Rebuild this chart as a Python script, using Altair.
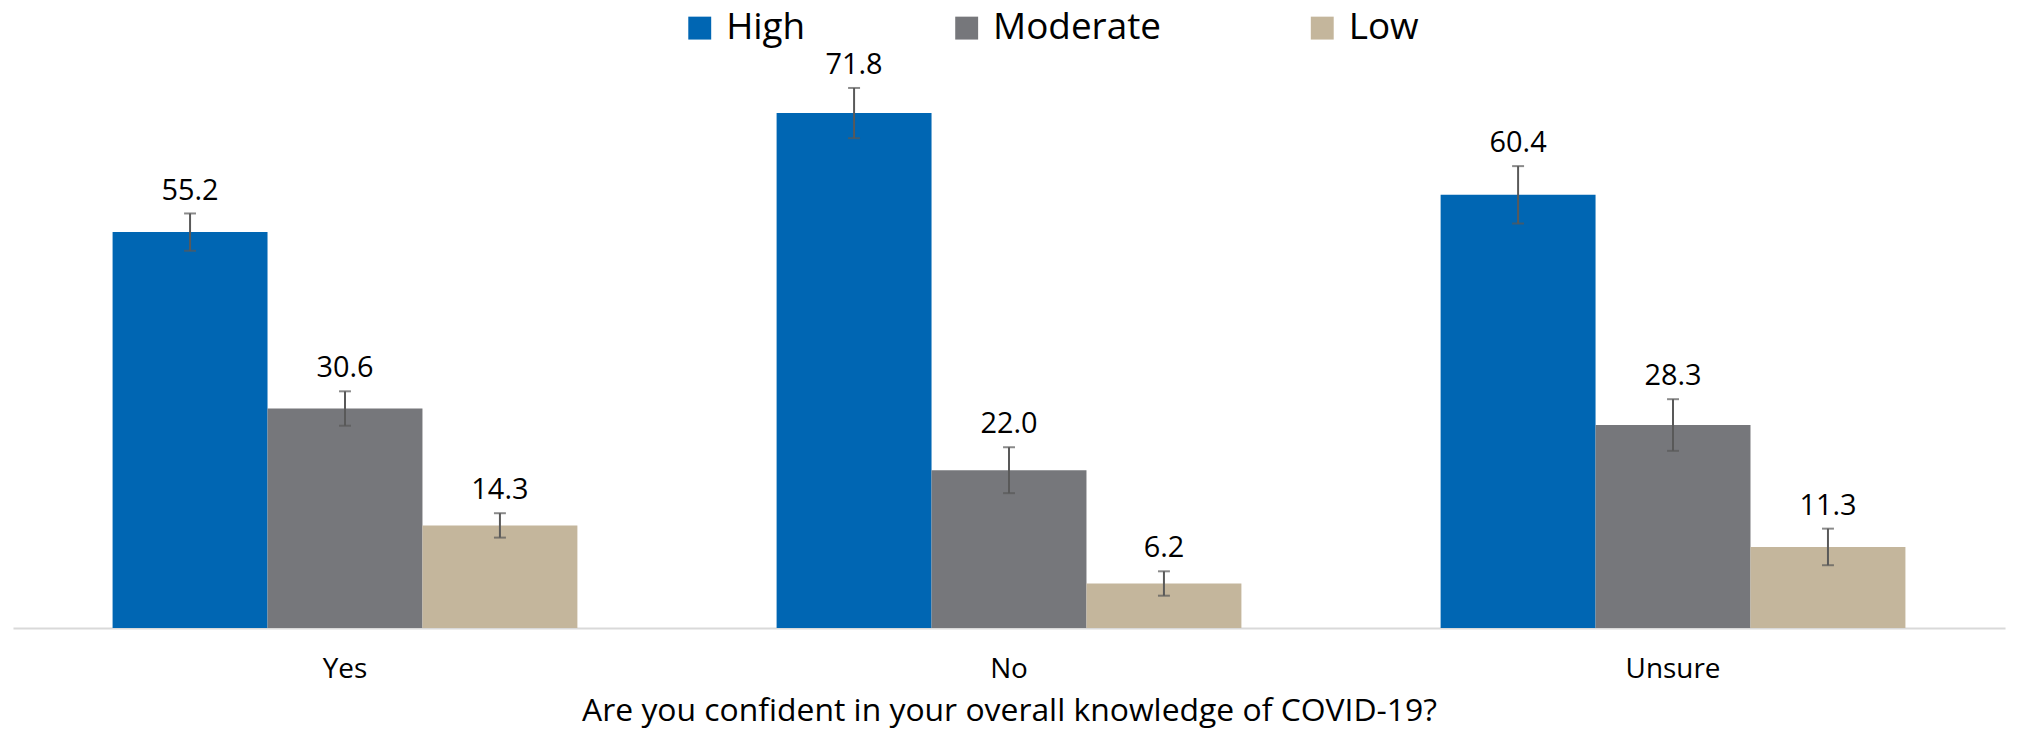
import altair as alt
import pandas as pd

categories = ["Yes", "No", "Unsure"]
levels = ["High", "Moderate", "Low"]
high = [55.2, 71.8, 60.4]
moderate = [30.6, 22.0, 28.3]
low = [14.3, 6.2, 11.3]
high_err = [2.6, 3.5, 4.0]
moderate_err = [2.4, 3.2, 3.6]
low_err = [1.7, 1.7, 2.55]
colors = ["#0066B3", "#76777B", "#C4B69C"]

rows = []
for lvl, vals, errs in [("High", high, high_err), ("Moderate", moderate, moderate_err), ("Low", low, low_err)]:
    for c, v, e in zip(categories, vals, errs):
        rows.append({"cat": c, "level": lvl, "value": v, "lo": v - e, "hi": v + e, "label": f"{v:.1f}"})
df = pd.DataFrame(rows)

FONT = "Open Sans"

x = alt.X("cat:N", sort=categories,
          scale=alt.Scale(paddingInner=0.3, paddingOuter=0.15),
          axis=alt.Axis(title="Are you confident in your overall knowledge of COVID-19?",
                        labelAngle=0, labelFontSize=28, labelFont=FONT, labelColor="#000000",
                        labelPadding=28, ticks=False, domainColor="#D9D9D9", domainWidth=2,
                        titleFontSize=32, titleFont=FONT, titleFontWeight="normal",
                        titleColor="#000000", titlePadding=12))
xo = alt.XOffset("level:N", sort=levels, scale=alt.Scale(paddingInner=0, paddingOuter=0))
yscale = alt.Scale(domain=[0, 80], nice=False)

base = alt.Chart(df)

bars = base.mark_bar().encode(
    x=x, xOffset=xo,
    y=alt.Y("value:Q", scale=yscale, axis=None),
    color=alt.Color("level:N", sort=levels,
                    scale=alt.Scale(domain=levels, range=colors),
                    legend=alt.Legend(title=None, orient="none", direction="horizontal",
                                      legendX=671, legendY=-45, padding=0,
                                      symbolType="square", symbolSize=529,
                                      symbolStrokeWidth=0, labelFontSize=37,
                                      labelFont=FONT, labelColor="#000000", labelLimit=0,
                                      labelOffset=8, columnPadding=143)),
)

rules = base.mark_rule(color="#595959", strokeWidth=2).encode(
    x=x, xOffset=xo,
    y=alt.Y("lo:Q", scale=yscale), y2="hi:Q",
)

caps_lo = base.mark_tick(color="#595959", thickness=2, size=12, orient="horizontal").encode(
    x=x, xOffset=xo, y=alt.Y("lo:Q", scale=yscale))
caps_hi = base.mark_tick(color="#595959", thickness=2, size=12, orient="horizontal").encode(
    x=x, xOffset=xo, y=alt.Y("hi:Q", scale=yscale))

labels = base.mark_text(fontSize=29, font=FONT, color="#000000", baseline="alphabetic", dy=-14).encode(
    x=x, xOffset=xo, y=alt.Y("hi:Q", scale=yscale), text="label:N")

chart = alt.layer(bars, rules, caps_lo, caps_hi, labels).properties(
    width=2000, height=576,
    autosize=alt.AutoSizeParams(type="none"),
    padding={"left": 5, "top": 45, "right": 8, "bottom": 100},
).configure_view(stroke=None)

chart.save("out.html", embed_options={"renderer": "svg", "actions": False})
